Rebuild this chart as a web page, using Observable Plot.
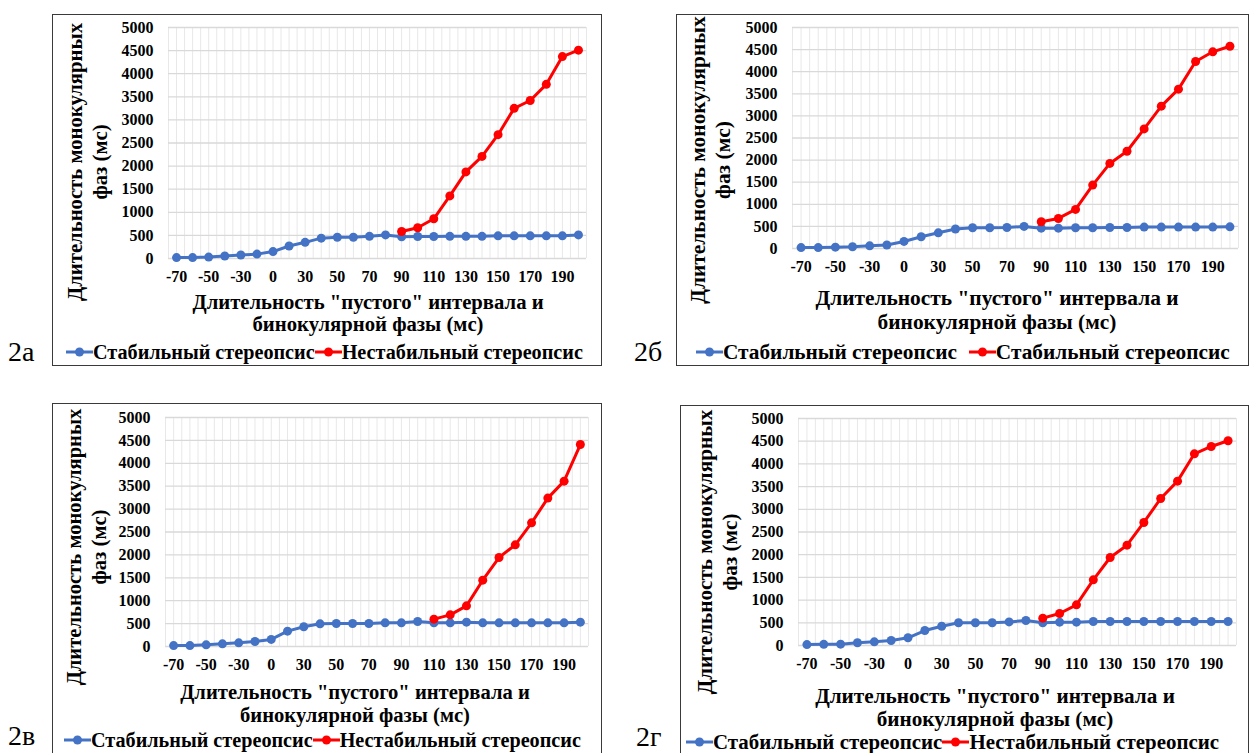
<!DOCTYPE html>
<html>
<head>
<meta charset="utf-8">
<script src="https://cdn.jsdelivr.net/npm/d3@7"></script>
<script src="https://cdn.jsdelivr.net/npm/@observablehq/plot@0.6"></script>
<style>
  html, body { margin:0; padding:0; background:#fff; }
  #page { position:relative; width:1251px; height:753px; overflow:hidden; background:#fff;
          font-family:"Liberation Serif","Times New Roman",serif; color:#000; }
  .box { position:absolute; border:1.3px solid #3a3a3a; box-sizing:border-box; }
  .abs { position:absolute; white-space:nowrap; }
  .ctr { transform:translate(-50%,-50%); text-align:center; }
  .xt { font-weight:bold; line-height:24px; }
  .yt { font-weight:bold; line-height:25px; transform:translate(-50%,-50%) rotate(-90deg); text-align:center; }
  .tag { font-size:28px; font-weight:normal; transform:translateY(-50%); line-height:30px; }
  .leg { font-weight:bold; display:flex; align-items:center; transform:translateY(-50%); line-height:22px; }
  .leg svg { display:block; }
  .chart { position:absolute; }
</style>
</head>
<body>
<div id="page"></div>
<script>
// ---- data ----
const categories = ["-70","-60","-50","-40","-30","-15","0","15","30","40","50","60","70","80","90","100","110","120","130","140","150","160","170","180","190","200"];
const yTicks = [0,500,1000,1500,2000,2500,3000,3500,4000,4500,5000];
const seriesNames = ["Стабильный стереопсис","Нестабильный стереопсис"];

const stable2a   = [20,20,30,55,75,95,150,270,350,440,460,460,480,510,470,475,475,480,480,480,490,490,490,490,490,510];
const unstable2a = [null,null,null,null,null,null,null,null,null,null,null,null,null,null,585,665,860,1355,1875,2210,2680,3250,3420,3770,4370,4510];

const stable2b   = [20,20,30,40,60,80,160,265,355,440,470,470,475,500,460,460,470,470,475,475,485,485,485,485,485,490];
const unstable2b = [null,null,null,null,null,null,null,null,null,null,null,null,null,null,605,680,885,1435,1925,2200,2705,3220,3605,4230,4450,4575];

const stable2c   = [20,20,36,58,80,110,155,335,430,495,502,502,502,517,517,546,517,517,531,517,517,517,517,517,517,531];
const unstable2c = [null,null,null,null,null,null,null,null,null,null,null,null,null,null,null,null,597,691,888,1448,1943,2220,2700,3240,3610,4410];

const stable2d   = [20,25,30,60,80,110,170,330,425,500,500,500,520,550,500,514,514,529,529,529,529,529,529,529,529,529];
const unstable2d = [null,null,null,null,null,null,null,null,null,null,null,null,null,null,602,705,896,1446,1938,2210,2710,3238,3620,4222,4384,4509];

const xTitle = ["Длительность \"пустого\" интервала и", "бинокулярной фазы (мс)"];
const yTitle = ["Длительность монокулярных", "фаз (мс)"];
const panelTags = ["2а","2б","2в","2г"];
const legendSecond = ["Нестабильный стереопсис","Стабильный стереопсис","Нестабильный стереопсис","Нестабильный стереопсис"];

const BLUE = "#4472C4", RED = "#FF0000";

// ---- layout ----
const panels = [
  {tag:panelTags[0], stable:stable2a, unstable:unstable2a, second:legendSecond[0], fs:20.7, lfs:20.2,
   box:{l:52,t:14,r:602,b:366}, plot:{l:168,r:586,y0:258,y1:27},
   xlab:{cx:368,y1:302,y2:324}, ylab:{cx:88,cy:162}, leg:{x:66,y:352,gap:0}, tagPos:{x:8,y:352}},
  {tag:panelTags[1], stable:stable2b, unstable:unstable2b, second:legendSecond[1], fs:21.4, lfs:21.3,
   box:{l:676,t:14,r:1249,b:366}, plot:{l:792,r:1238,y0:248,y1:27},
   xlab:{cx:997,y1:298,y2:322}, ylab:{cx:711,cy:160}, leg:{x:696,y:352,gap:12}, tagPos:{x:634,y:352}},
  {tag:panelTags[2], stable:stable2c, unstable:unstable2c, second:legendSecond[2], fs:20.6, lfs:20.2,
   box:{l:52,t:403,r:602,b:780}, plot:{l:165,r:588,y0:646,y1:417},
   xlab:{cx:355,y1:692,y2:715}, ylab:{cx:87,cy:547}, leg:{x:64,y:740,gap:0}, tagPos:{x:8,y:736}},
  {tag:panelTags[3], stable:stable2d, unstable:unstable2d, second:legendSecond[3], fs:21.2, lfs:20.9,
   box:{l:680,t:405,r:1249,b:780}, plot:{l:798,r:1236,y0:645,y1:418},
   xlab:{cx:995,y1:696,y2:719}, ylab:{cx:718,cy:552}, leg:{x:686,y:742,gap:0}, tagPos:{x:636,y:737}}
];

const page = document.getElementById("page");

function el(cls, css, html) {
  const d = document.createElement("div");
  d.className = cls;
  Object.assign(d.style, css);
  if (html !== undefined) d.innerHTML = html;
  page.appendChild(d);
  return d;
}

function marker(color) {
  return `<svg width="27" height="12"><line x1="0" y1="6" x2="27" y2="6" stroke="${color}" stroke-width="3"/><circle cx="13.5" cy="6" r="4.5" fill="${color}"/></svg>`;
}

function makeChart(p) {
  const rows = categories.map((c, i) => ({i, v: p.stable[i]}));
  const rrows = categories.map((c, i) => ({i, v: p.unstable[i]}));
  const ml = 72, mt = 12, mb = 34, mr = 6;
  const w = p.plot.r - p.plot.l + ml + mr;
  const h = p.plot.y0 - p.plot.y1 + mt + mb;
  const chart = Plot.plot({
    width: w, height: h,
    marginLeft: ml, marginRight: mr, marginTop: mt, marginBottom: mb,
    style: {fontFamily: "Liberation Serif", fontSize: "16px", fontWeight: "bold", color: "#000", background: "transparent", overflow: "visible"},
    x: {type: "linear", domain: [-0.5, categories.length - 0.5]},
    y: {domain: [0, 5000]},
    marks: [
      Plot.ruleX(d3.range(-0.5, categories.length, 0.5), {stroke: "#e8e8e8", strokeWidth: 1}),
      Plot.ruleY(yTicks, {stroke: "#d9d9d9", strokeWidth: 1.3}),
      Plot.axisY(yTicks, {tickSize: 0, tickPadding: 15, label: null, tickFormat: d => String(d)}),
      Plot.axisX(d3.range(0, categories.length, 2), {tickSize: 0, tickPadding: 12, label: null, tickFormat: i => categories[i]}),
      Plot.line(rows, {x: "i", y: "v", stroke: BLUE, strokeWidth: 3}),
      Plot.dot(rows, {x: "i", y: "v", fill: BLUE, r: 4.5}),
      Plot.line(rrows, {x: "i", y: "v", stroke: RED, strokeWidth: 3}),
      Plot.dot(rrows, {x: "i", y: "v", fill: RED, r: 4.5})
    ]
  });
  const holder = el("chart", {left: (p.plot.l - ml) + "px", top: (p.plot.y1 - mt) + "px"});
  holder.appendChild(chart);
}

for (const p of panels) {
  el("box", {left: p.box.l + "px", top: p.box.t + "px", width: (p.box.r - p.box.l) + "px", height: (p.box.b - p.box.t) + "px"});
  makeChart(p);
  el("abs ctr xt", {left: p.xlab.cx + "px", top: p.xlab.y1 + "px", fontSize: p.fs + "px"}, xTitle[0]);
  el("abs ctr xt", {left: p.xlab.cx + "px", top: p.xlab.y2 + "px", fontSize: p.fs + "px"}, xTitle[1]);
  el("abs yt", {left: p.ylab.cx + "px", top: p.ylab.cy + "px", fontSize: p.fs + "px"}, yTitle[0] + "<br>" + yTitle[1]);
  el("abs tag", {left: p.tagPos.x + "px", top: p.tagPos.y + "px"}, p.tag);
  el("abs leg", {left: p.leg.x + "px", top: p.leg.y + "px", fontSize: p.lfs + "px"},
     marker(BLUE) + `<span>${seriesNames[0]}</span>` +
     `<span style="display:inline-block;width:${p.leg.gap}px"></span>` +
     marker(RED) + `<span>${p.second}</span>`);
}
</script>
</body>
</html>
